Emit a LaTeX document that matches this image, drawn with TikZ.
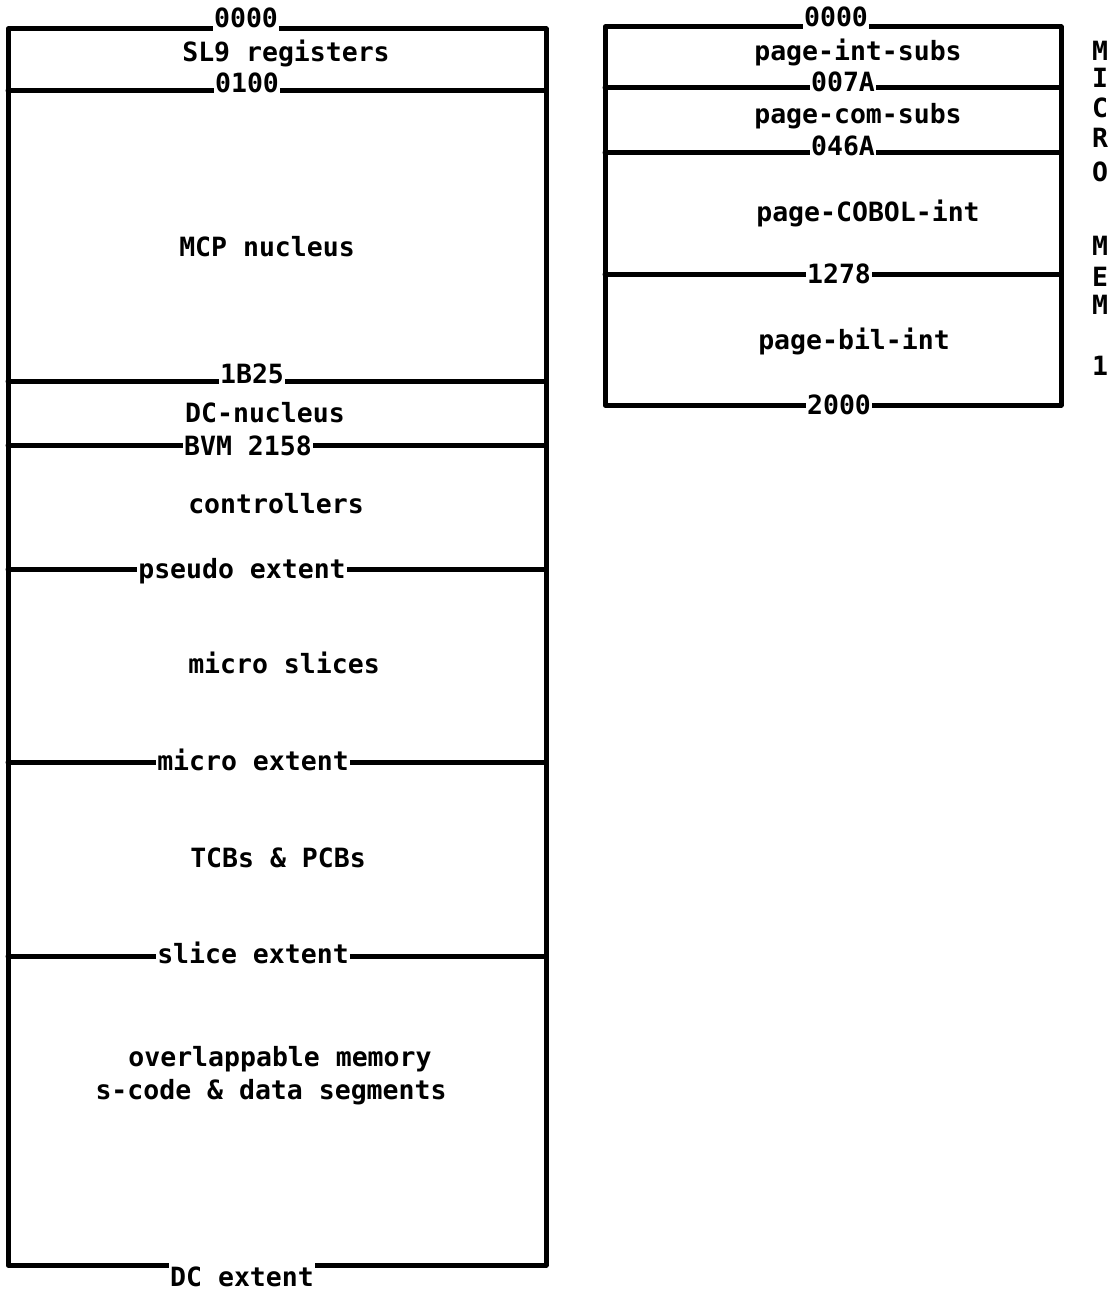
\documentclass[tikz,border=0pt]{standalone}
\usepackage{fontspec}
\newfontfamily\memfam{DejaVu Sans Mono}
\newcommand\memfont{\memfam\bfseries\fontsize{26.5}{30}\selectfont}
\begin{document}
\begin{tikzpicture}[x=1pt,y=-1pt,
  wall/.style={line width=5pt, line cap=round, line join=round},
  lbl/.style={font=\memfont, fill=white, inner xsep=1.5pt, inner ysep=6pt, anchor=base},
  txt/.style={font=\memfont, inner sep=0pt, anchor=base}]
\useasboundingbox (0,0) rectangle (1119,1292);
% left box
\draw[wall] (8,29) rectangle (546,1265);
\foreach \yy in {91,381,445,569,762,956} \draw[wall] (8,\yy) -- (546,\yy);
% right box
\draw[wall] (605,27) rectangle (1061,405);
\foreach \yy in {88,153,274} \draw[wall] (605,\yy) -- (1061,\yy);
% boundary labels left
\node[lbl] (a0000) at (246,28) {0000};
\node[lbl] (a0100) at (247,93) {0100};
\node[lbl] (a1B25) at (252,383) {1B25};
\node[lbl] (aBVM) at (248,455) {BVM 2158};
\node[lbl] (apseudo) at (242,578) {pseudo extent};
\node[lbl] (amicro) at (253,770) {micro extent};
\node[lbl] (aslice) at (253,963) {slice extent};
\node[lbl, inner ysep=3pt] (aDC) at (242,1286) {DC extent};
% boundary labels right
\node[lbl] (b0000) at (836,27) {0000};
\node[lbl] (b007A) at (843,92) {007A};
\node[lbl] (b046A) at (843,156) {046A};
\node[lbl] (b1278) at (839,283) {1278};
\node[lbl] (b2000) at (839,414) {2000};
% region texts left
\node[txt] (sl9) at (286,62) {SL9 registers};
\node[txt] (mcp) at (267,256) {MCP nucleus};
\node[txt] (dcn) at (265,422) {DC-nucleus};
\node[txt] (ctl) at (276,513) {controllers};
\node[txt] (msl) at (284,673) {micro slices};
\node[txt] (tcb) at (278,867) {TCBs \& PCBs};
\node[txt] (ovl) at (280,1066) {overlappable memory};
\node[txt] (scd) at (271,1099) {s-code \& data segments};
% region texts right
\node[txt] (pis) at (858,61) {page-int-subs};
\node[txt] (pcs) at (858,124) {page-com-subs};
\node[txt] (pcb) at (868,221) {page-COBOL-int};
\node[txt] (pbi) at (854,349) {page-bil-int};
% vertical word
\node[txt] (v1) at (1100,61) {M};
\node[txt] (v2) at (1100,88) {I};
\node[txt] (v3) at (1100,118) {C};
\node[txt] (v4) at (1100,148) {R};
\node[txt] (v5) at (1100,182) {O};
\node[txt] (v6) at (1100,255) {M};
\node[txt] (v7) at (1100,286) {E};
\node[txt] (v8) at (1100,314) {M};
\node[txt] (v9) at (1100,375) {1};
\end{tikzpicture}
\end{document}
